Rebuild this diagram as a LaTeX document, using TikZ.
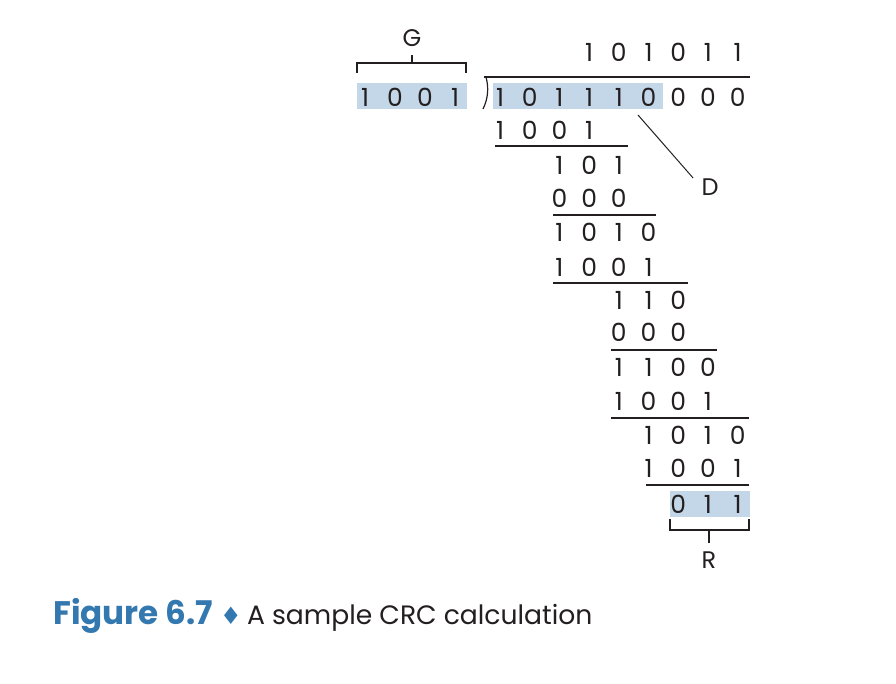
\documentclass[tikz,border=0pt]{standalone}
\usepackage{fontspec}
\setmainfont{Poppins}
\newfontfamily\symfont{DejaVu Sans}
\definecolor{ink}{RGB}{35,31,32}
\definecolor{hl}{RGB}{196,215,233}
\definecolor{figblue}{RGB}{52,120,176}
\tikzset{
  bit/.style={inner sep=0pt, text=ink, font=\fontsize{12.5}{14}\selectfont},
  lbl/.style={inner sep=4pt, text=ink, font=\fontsize{12}{14}\selectfont},
  rule/.style={ink, line width=0.6pt},
}

\begin{document}
\begin{tikzpicture}[x=0.5pt,y=-0.5pt]
  \def\dx{29.7} % column step
  \def\xo{500} % first column of the dividend
  \useasboundingbox (0,0) rectangle (896,684);

  % Shaded fields
  \fill[hl] (357,83) rectangle (467,109);
  \fill[hl] (493,83) rectangle (663,109);
  \fill[hl] (670,491) rectangle (750,517);

  % Generator
  \foreach \b [count=\i from 0] in {1,0,0,1}
    \node[bit] (g-\i) at (365+30*\i,97) {\b};
  \node[lbl] (G) at (412,38) {G};
  \draw[rule] (357,73) |- (466,63) -- (466,73);
  \draw[rule] (412,63) -- (G.south);

  % Division bracket
  \draw[rule] (484,77) -- (750,77);
  \draw[rule] (486,77) .. controls (489,88) and (488,99) .. (483,109);

  % Rows of bits: first column / y / bits
  \foreach \c/\y/\bits [count=\r] in {
      3/52/{1,0,1,0,1,1},
      0/97/{1,0,1,1,1,0,0,0,0},
      0/130/{1,0,0,1},
      2/165/{1,0,1},
      2/198/{0,0,0},
      2/232/{1,0,1,0},
      2/267/{1,0,0,1},
      4/300/{1,1,0},
      4/332/{0,0,0},
      4/367/{1,1,0,0},
      4/401/{1,0,0,1},
      5/435/{1,0,1,0},
      5/468/{1,0,0,1},
      6/504/{0,1,1}}
    \foreach \b [count=\i from 0] in \bits
      \node[bit] (r\r-\i) at (\xo+\dx*\c+\dx*\i,\y) {\b};

  % Subtraction rules
  \foreach \y/\xa/\xb in {146/495/628, 215/553/656, 283/553/688,
                          350/611/717, 418/611/749, 485/646/749}
    \draw[rule] (\xa,\y) -- (\xb,\y);

  % Data D
  \coordinate (Dtip) at (638,115);
  \node[lbl] (D) at (710,187) {D};
  \draw[rule, line width=0.5pt] (Dtip) -- (D.152);

  % Remainder R
  \node[lbl] (R) at (709,560) {R};
  \draw[rule] (670,519) |- (749,530) -- (749,519);
  \draw[rule] (709,530) -- (R.north);

  % Caption
  \node[anchor=base west, inner sep=0pt] (caption) at (53,625)
    {\textcolor{figblue}{\fontsize{16.3}{18}\selectfont\bfseries Figure 6.7\ {\symfont\mdseries\fontsize{12}{12}\selectfont ♦}}\ \textcolor{ink}{\fontsize{13.3}{18}\selectfont A sample CRC calculation}};
\end{tikzpicture}
\end{document}
